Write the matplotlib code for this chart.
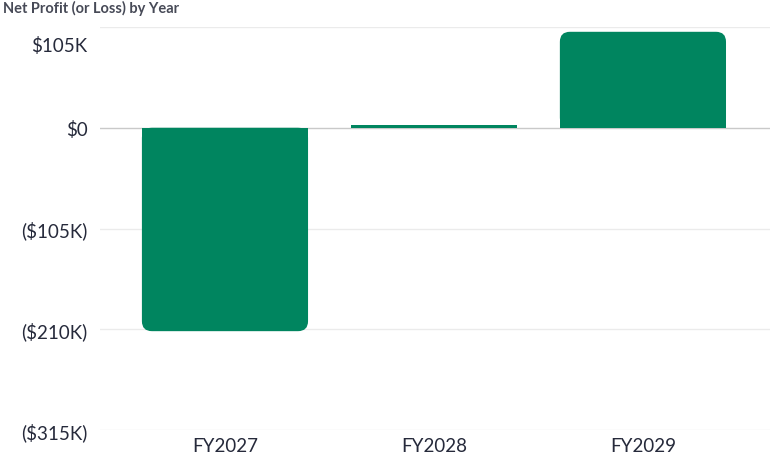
import matplotlib.pyplot as plt
from matplotlib.patches import FancyBboxPatch, Rectangle
from matplotlib.ticker import FixedLocator, FuncFormatter
from matplotlib.transforms import ScaledTranslation

# data (dollars)
years = ['FY2027', 'FY2028', 'FY2029']
net_profit = [-212000, 3000, 100000]
y_ticks = [105000, 0, -105000, -210000, -315000]

bar_color = '#00855f'
text_color = '#262a3b'

plt.rcParams['font.family'] = ['Lato', 'DejaVu Sans']

fig = plt.figure(figsize=(7.7, 4.77), dpi=100)
ax = fig.add_axes([100 / 770, 1 - 431 / 477, 670 / 770, 403 / 477])

x = list(range(len(years)))
bw = 0.795
bars = ax.bar(x, net_profit, width=bw, color='none', zorder=3)

ax.set_xlim(-0.598, 2.608)
ax.set_ylim(-315000, 105000)

# round the far end of each bar, keep the zero end square
px_x = 670 / (2.608 + 0.598)      # pixels per x unit
px_y = 403 / 420000               # pixels per dollar
radius_px = 10
for b, v in zip(bars, net_profit):
    x0 = b.get_x()
    w = b.get_width()
    h_px = abs(v) * px_y
    if h_px <= 2 * radius_px:
        ax.add_patch(Rectangle((x0, 0), w, v, color=bar_color, lw=0, zorder=3))
        continue
    r = radius_px / px_x
    y0, y1 = min(0, v), max(0, v)
    ax.add_patch(FancyBboxPatch((x0, y0), w, y1 - y0,
                                boxstyle=f'round,pad=0,rounding_size={r}',
                                mutation_aspect=px_x / px_y,
                                fc=bar_color, ec='none', zorder=3))
    sq = radius_px / px_y
    ax.add_patch(Rectangle((x0, 0), w, sq if v > 0 else -sq,
                           color=bar_color, lw=0, zorder=3))

# gridlines
for t in y_ticks:
    ax.axhline(t, color='#c9c9c9' if t == 0 else '#ebebeb', lw=1, zorder=1)

def fmt(v, pos=None):
    k = int(round(abs(v) / 1000))
    if v == 0:
        return '$0'
    return f'${k}K' if v > 0 else f'(${k}K)'

ax.yaxis.set_major_locator(FixedLocator(y_ticks))
ax.yaxis.set_major_formatter(FuncFormatter(fmt))
ax.set_xticks(x)
ax.set_xticklabels(years)
ax.tick_params(axis='both', length=0, labelsize=13.5, labelcolor=text_color)
ax.tick_params(axis='y', pad=9)
ax.tick_params(axis='x', pad=5)

# top label sits below its gridline
shift = ScaledTranslation(0, -16 / 100, fig.dpi_scale_trans)
for lbl in ax.get_yticklabels():
    if lbl.get_text() == fmt(105000):
        lbl.set_transform(lbl.get_transform() + shift)

for s in ax.spines.values():
    s.set_visible(False)

fig.text(3 / 770, 1 - 8 / 477, 'Net Profit (or Loss) by Year', fontsize=10.5,
         fontweight='bold', color='#474a57', ha='left', va='center')

fig.savefig('out.png', dpi=100)
